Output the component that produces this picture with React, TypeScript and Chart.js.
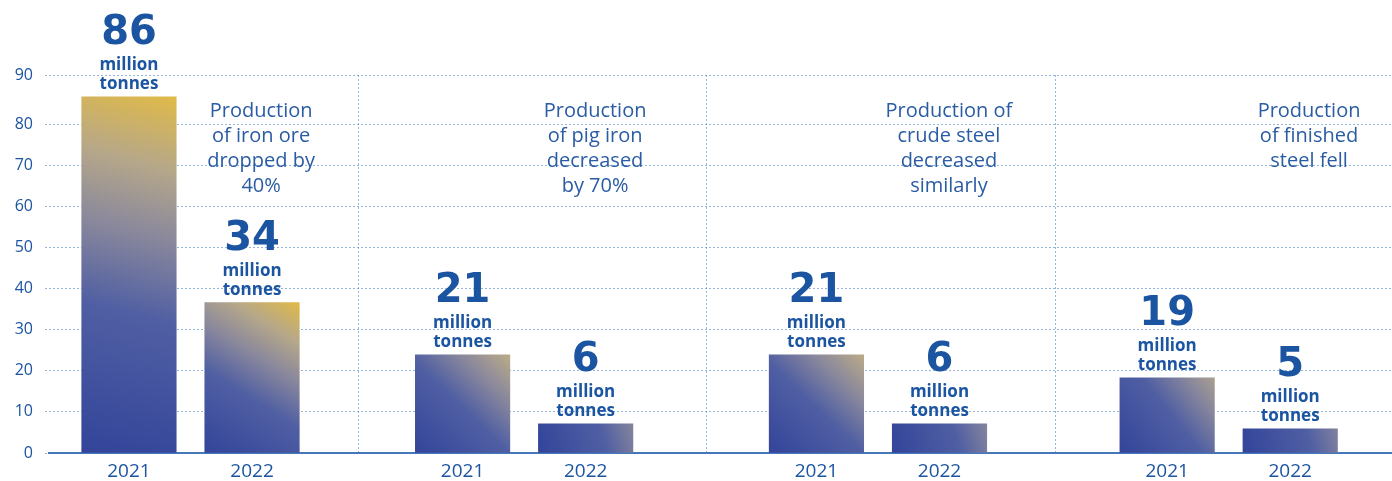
import React, { useEffect, useRef } from 'react';
import { Chart, registerables } from 'chart.js';

Chart.register(...registerables);

// ---- data ----
const categories = ['Iron ore', 'Pig iron', 'Crude steel', 'Finished steel'];
const seriesNames = ['2021', '2022'];
const values2021 = [86.7, 23.9, 23.9, 18.3];
const values2022 = [36.6, 7.1, 7.1, 5.9];
const valueLabels2021 = ['86', '21', '21', '19'];
const valueLabels2022 = ['34', '6', '6', '5'];
const unitLines = ['million', 'tonnes'];
const positions2021 = [0.343, 1.3, 2.315, 3.321];
const positions2022 = [0.696, 1.653, 2.668, 3.674];
const groupDividers = [1, 2, 3];
const notePositions = [0.722, 1.68, 2.695, 3.728];
const notes = [
  ['Production', 'of iron ore', 'dropped by', '40%'],
  ['Production', 'of pig iron', 'decreased', 'by 70%'],
  ['Production of', 'crude steel', 'decreased', 'similarly'],
  ['Production', 'of finished', 'steel fell'],
];
const yTickValues = [0, 10, 20, 30, 40, 50, 60, 70, 80, 92];
const yTickLabels = ['0', '10', '20', '30', '40', '50', '60', '70', '80', '90'];
const yMax = 92;
const xMin = 0.1136;
const xMax = 3.966;

// ---- styles ----
const FONT = '"Open Sans", sans-serif';
const NUM_FONT = '"DejaVu Sans", sans-serif';
const TEXT_COLOR = '#1b54a0';
const NOTE_COLOR = '#2a5ca4';
const GRID_COLOR = 'rgba(110,155,210,0.75)';
const AXIS_COLOR = '#4677b8';
const GRADIENT_STOPS: [number, string][] = [
  [0, '#33449a'],
  [0.4, '#505fa3'],
  [0.62, '#8a889c'],
  [0.8, '#b5a78a'],
  [1, '#e0ba48'],
];

const near = (a: number, list: number[]) => list.findIndex((v) => Math.abs(v - a) < 1e-6);

function barFill(context: any) {
  const chart = context.chart;
  if (!chart.chartArea || context.type !== 'data') return '#4e5ea3';
  const xs = chart.scales.x;
  const ys = chart.scales.y;
  const raw = context.raw;
  if (!raw) return '#4e5ea3';
  const half = 94.5 / 2;
  const cx = xs.getPixelForValue(raw.x);
  const top = ys.getPixelForValue(raw.y);
  const bottom = ys.getPixelForValue(0);
  const h = bottom - top;
  const w = half * 2;
  const endT = Math.min(1, 0.5 + h / 300);
  const g = chart.ctx.createLinearGradient(cx - half, bottom, cx - half + w / endT, bottom - h / endT);
  GRADIENT_STOPS.forEach(([t, c]) => g.addColorStop(t, c));
  return g;
}

const labelPlugin = {
  id: 'barLabels',
  afterDatasetsDraw(chart: any) {
    const ctx = chart.ctx;
    ctx.save();
    ctx.textAlign = 'center';
    ctx.textBaseline = 'alphabetic';
    ctx.fillStyle = TEXT_COLOR;
    chart.data.datasets.forEach((_ds: any, di: number) => {
      const meta = chart.getDatasetMeta(di);
      const lbls = di === 0 ? valueLabels2021 : valueLabels2022;
      meta.data.forEach((el: any, i: number) => {
        const { x, y } = el.getProps(['x', 'y'], true);
        ctx.font = `700 40px ${NUM_FONT}`;
        ctx.fillText(lbls[i], x, y - 53);
        ctx.font = `700 17px ${FONT}`;
        ctx.fillText(unitLines[0], x, y - 27);
        ctx.fillText(unitLines[1], x, y - 8);
      });
    });
    const xs = chart.scales.x;
    ctx.font = `400 20px ${FONT}`;
    ctx.fillStyle = NOTE_COLOR;
    notes.forEach((lines, g) => {
      const cx = xs.getPixelForValue(notePositions[g]);
      lines.forEach((line, k) => {
        ctx.fillText(line, cx, chart.chartArea.top + 42 + k * 25);
      });
    });
    ctx.restore();
  },
};

export default function App() {
  const ref = useRef<HTMLCanvasElement>(null);

  useEffect(() => {
    document.body.style.margin = '0';
    if (!ref.current) return;
    const chart = new Chart(ref.current, {
      type: 'bar',
      data: {
        datasets: [
          {
            label: seriesNames[0],
            data: values2021.map((v, i) => ({ x: positions2021[i], y: v, c: categories[i] })),
            backgroundColor: barFill,
            grouped: false,
            barThickness: 94.5,
          } as any,
          {
            label: seriesNames[1],
            data: values2022.map((v, i) => ({ x: positions2022[i], y: v, c: categories[i] })),
            backgroundColor: barFill,
            grouped: false,
            barThickness: 94.5,
          } as any,
        ],
      },
      options: {
        animation: false,
        responsive: true,
        maintainAspectRatio: false,
        layout: { padding: { top: 75, left: 0, right: 0, bottom: 0 } },
        plugins: {
          legend: { display: false },
          tooltip: { enabled: false },
          title: { display: false },
        },
        scales: {
          x: {
            type: 'linear',
            min: xMin,
            max: xMax,
            offset: false,
            afterBuildTicks: (s: any) => {
              s.ticks = [...groupDividers, ...positions2021, ...positions2022]
                .sort((a, b) => a - b)
                .map((v) => ({ value: v }));
            },
            afterFit: (s: any) => {
              s.height = 28;
            },
            ticks: {
              autoSkip: false,
              maxRotation: 0,
              padding: 7,
              color: TEXT_COLOR,
              font: { family: FONT, size: 19 },
              callback: (v: any) => {
                if (near(v, positions2021) >= 0) return seriesNames[0];
                if (near(v, positions2022) >= 0) return seriesNames[1];
                return '';
              },
            },
            grid: {
              offset: false,
              color: (c: any) => (c.tick && near(c.tick.value, groupDividers) >= 0 ? GRID_COLOR : 'rgba(0,0,0,0)'),
              drawTicks: false,
              lineWidth: 1,
            },
            border: { display: true, color: AXIS_COLOR, width: 2, dash: [2, 2] },
          } as any,
          y: {
            min: 0,
            max: yMax,
            afterBuildTicks: (s: any) => {
              s.ticks = yTickValues.map((v) => ({ value: v }));
            },
            afterFit: (s: any) => {
              s.width = 49;
            },
            ticks: {
              color: TEXT_COLOR,
              padding: 12,
              font: { family: FONT, size: 16 },
              callback: (_v: any, i: number) => yTickLabels[i],
            },
            grid: {
              color: GRID_COLOR,
              lineWidth: 1,
              tickLength: 4,
              tickBorderDash: [2, 2],
            },
            border: { display: false, dash: [2, 2] },
          } as any,
        },
      },
      plugins: [labelPlugin],
    });
    return () => chart.destroy();
  }, []);

  return (
    <div style={{ position: 'relative', width: '1392px', height: '481px' }}>
      <canvas ref={ref} />
    </div>
  );
}
